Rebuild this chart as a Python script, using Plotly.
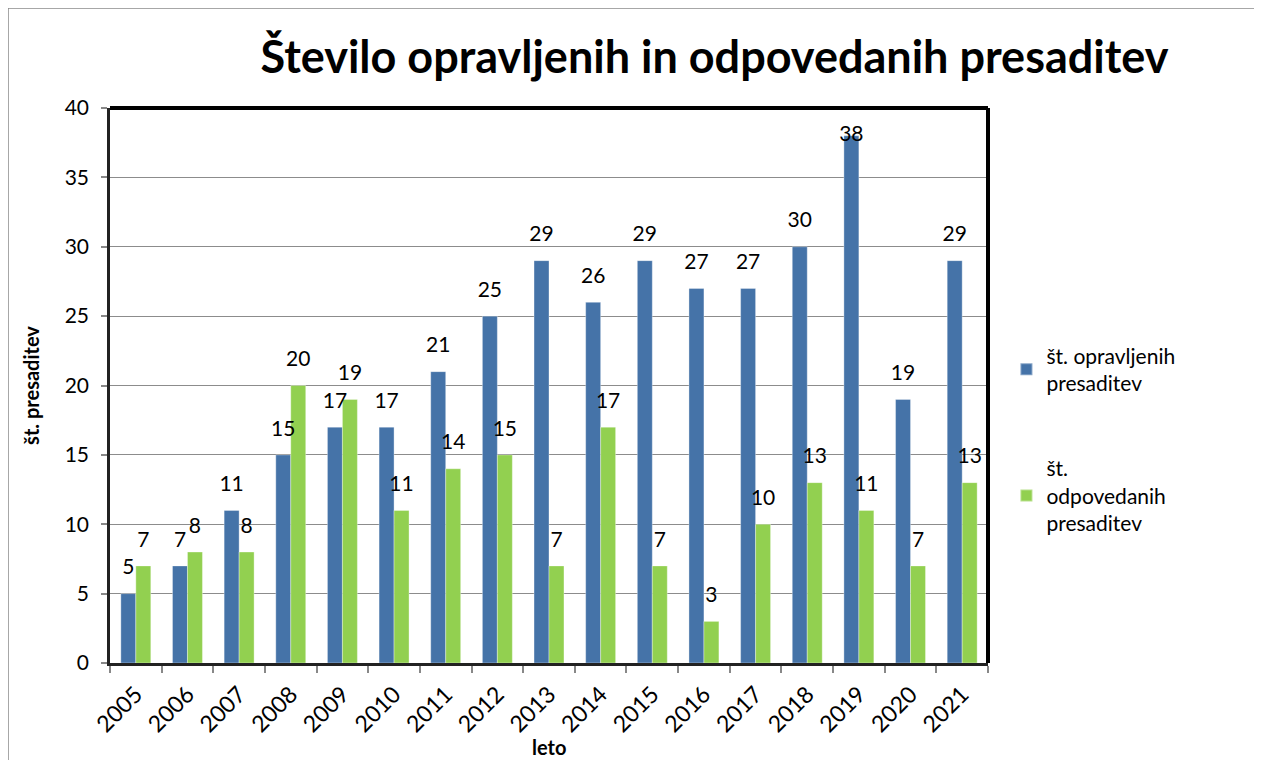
import plotly.graph_objects as go

years = ["2005", "2006", "2007", "2008", "2009", "2010", "2011", "2012", "2013",
         "2014", "2015", "2016", "2017", "2018", "2019", "2020", "2021"]
opravljene = [5, 7, 11, 15, 17, 17, 21, 25, 29, 26, 29, 27, 27, 30, 38, 19, 29]
odpovedane = [7, 8, 8, 20, 19, 11, 14, 15, 7, 17, 7, 3, 10, 13, 11, 7, 13]

series_names = ["št. opravljenih<br>presaditev", "št.<br>odpovedanih<br>presaditev"]
colors = ["#4573A8", "#92D050"]
FONT = "Lato, Open Sans, sans-serif"
FS = 21
Y_MAX = 40

fig = go.Figure()
for i, (vals, name, col) in enumerate(zip([opravljene, odpovedane], series_names, colors)):
    fig.add_trace(go.Bar(
        x=years, y=vals, name=name,
        marker=dict(color=col, line=dict(color="rgba(255,255,255,0.35)", width=1)),
        legendgroup=f"g{i}",
    ))
# value labels: invisible grouped markers carrying the text above each bar
for i, vals in enumerate([opravljene, odpovedane]):
    positions = ["top center" if v <= Y_MAX - 4 else "middle center" for v in vals]
    fig.add_trace(go.Scatter(
        x=years, y=vals, mode="markers+text", text=vals,
        textposition=positions,
        textfont=dict(size=FS, color="black", family=FONT),
        marker=dict(size=21, opacity=0),
        cliponaxis=False, showlegend=False, hoverinfo="skip",
    ))

# page body offsets the figure by 8px; plot area spans x 110..988, y 108..663 on screen
fig.update_layout(
    width=1246, height=752,
    margin=dict(l=102, r=266, t=100, b=97),
    paper_bgcolor="white", plot_bgcolor="white",
    font=dict(family=FONT, color="black", size=FS),
    barmode="group", bargap=0.42, bargroupgap=0,
    scattermode="group", scattergap=0.42,
    title=dict(text="<b>Število opravljenih in odpovedanih presaditev</b>",
               x=0.567, xanchor="center", y=0.935, yanchor="middle",
               font=dict(size=45, family=FONT, color="black")),
    legend=dict(x=1.021, y=0.59, xanchor="left", yanchor="top",
                font=dict(size=FS, family=FONT), tracegroupgap=55,
                itemsizing="constant"),
    showlegend=True,
    annotations=[dict(text="<b>leto</b>", xref="paper", yref="paper",
                      x=0.5, y=(663 - 747) / 555, xanchor="center", yanchor="middle",
                      showarrow=False, font=dict(size=FS - 1, family=FONT, color="black"))],
)
fig.update_xaxes(
    type="category", tickangle=-45, tickson="boundaries",
    ticks="outside", ticklen=7, tickcolor="#888888", tickwidth=1.5,
    showline=True, linecolor="#222222", linewidth=2.5, showgrid=False,
    tickfont=dict(size=23, family=FONT), ticklabelstandoff=6,
    automargin=False,
)
fig.update_yaxes(
    range=[0, Y_MAX], dtick=5, ticks="outside", ticklen=6, tickcolor="#888888", tickwidth=1.5,
    showline=True, linecolor="#222222", linewidth=2.5,
    showgrid=True, gridcolor="#8c8c8c", gridwidth=1.2, zeroline=False,
    tickfont=dict(size=FS, family=FONT), ticklabelstandoff=8,
    title=dict(text="<b>št. presaditev</b>", font=dict(size=FS - 1, family=FONT), standoff=20),
)
# thick top and right plot border
fig.add_shape(type="line", xref="paper", yref="paper", x0=0, x1=1, y0=1, y1=1,
              line=dict(color="black", width=4))
fig.add_shape(type="line", xref="paper", yref="paper", x0=1, x1=1, y0=0, y1=1,
              line=dict(color="black", width=4))
# outer chart border (left and top edges visible)
fig.add_shape(type="rect", xref="paper", yref="paper",
              x0=(8 - 110) / 878, x1=1.6, y0=-0.5, y1=(663 - 8) / 555,
              line=dict(color="#8a8a8a", width=1.5), layer="below")

fig.write_html("out.html")
